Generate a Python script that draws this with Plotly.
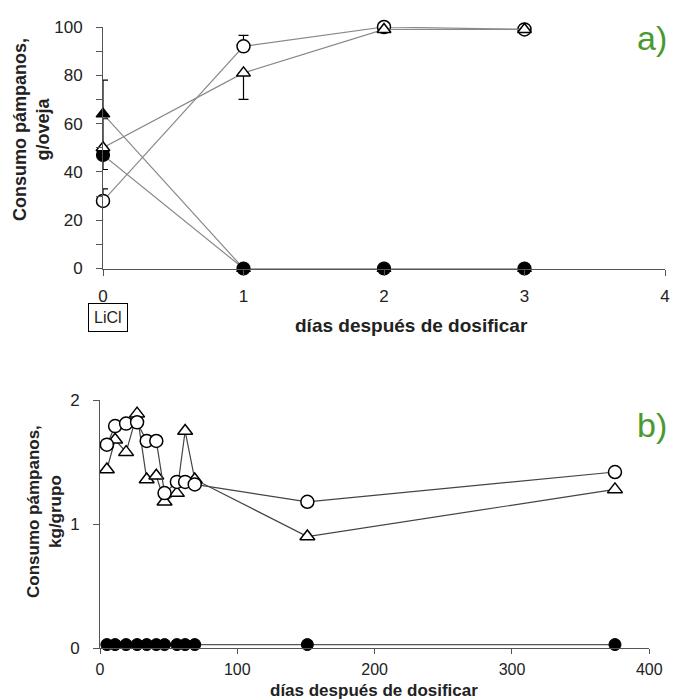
import plotly.graph_objects as go

# ---------- Panel a data ----------
days_a = [0, 1, 2, 3]
open_circle_a = [28, 92, 100, 99]
open_circle_a_err_up = [5, 4.5, 0, 0]
open_triangle_a = [50, 81, 99, 99]
open_triangle_a_err_up = [12, 0, 0, 0]
open_triangle_a_err_dn = [0, 11, 0, 0]
filled_circle_a = [47, 0, 0, 0]
filled_circle_a_err_dn = [6, 0, 0, 0]
filled_triangle_a = [64, 0, 0, 0]
filled_triangle_a_err_up = [14, 0, 0, 0]

# ---------- Panel b data ----------
days_b = [5, 11, 19, 27, 34, 41, 47, 56, 62, 69, 151, 375]
open_circle_b = [1.64, 1.79, 1.81, 1.82, 1.67, 1.67, 1.25, 1.34, 1.34, 1.32, 1.18, 1.42]
open_triangle_b = [1.44, 1.68, 1.58, 1.89, 1.36, 1.39, 1.18, 1.25, 1.75, 1.36, 0.90, 1.28]
filled_circle_b = [0.03] * 12
filled_triangle_b = [-0.02] * 12

FONT = "Liberation Sans, Arial, sans-serif"
W, H = 673, 700

fig = go.Figure()

def errs(up=None, dn=None):
    d = dict(type="data", symmetric=False, color="black", thickness=1.2, width=5, visible=True)
    d["array"] = up if up is not None else [0] * len(days_a)
    d["arrayminus"] = dn if dn is not None else [0] * len(days_a)
    return d

# Panel a traces
fig.add_trace(go.Scatter(x=days_a, y=filled_triangle_a, mode="lines+markers",
                         line=dict(color="#8a8a8a", width=1.2),
                         marker=dict(symbol="triangle-up", size=12, color="black",
                                     line=dict(color="black", width=1.2)),
                         error_y=errs(up=filled_triangle_a_err_up),
                         cliponaxis=False, xaxis="x", yaxis="y"))
fig.add_trace(go.Scatter(x=days_a, y=filled_circle_a, mode="lines+markers",
                         line=dict(color="#8a8a8a", width=1.2),
                         marker=dict(symbol="circle", size=13, color="black",
                                     line=dict(color="black", width=1.2)),
                         error_y=errs(dn=filled_circle_a_err_dn),
                         cliponaxis=False, xaxis="x", yaxis="y"))
fig.add_trace(go.Scatter(x=days_a, y=open_circle_a, mode="lines+markers",
                         line=dict(color="#8a8a8a", width=1.2),
                         marker=dict(symbol="circle", size=13, color="white",
                                     line=dict(color="black", width=1.5)),
                         error_y=errs(up=open_circle_a_err_up),
                         cliponaxis=False, xaxis="x", yaxis="y"))
fig.add_trace(go.Scatter(x=days_a, y=open_triangle_a, mode="lines+markers",
                         line=dict(color="#8a8a8a", width=1.2),
                         marker=dict(symbol="triangle-up", size=12, color="white",
                                     line=dict(color="black", width=1.5)),
                         error_y=errs(up=open_triangle_a_err_up, dn=open_triangle_a_err_dn),
                         cliponaxis=False, xaxis="x", yaxis="y"))

# Panel b traces
fig.add_trace(go.Scatter(x=days_b, y=filled_triangle_b, mode="lines+markers",
                         line=dict(color="#555", width=1.2),
                         marker=dict(symbol="triangle-up", size=11, color="black",
                                     line=dict(color="black", width=1)),
                         cliponaxis=False, xaxis="x2", yaxis="y2"))
fig.add_trace(go.Scatter(x=days_b, y=filled_circle_b, mode="lines+markers",
                         line=dict(color="#555", width=1.2),
                         marker=dict(symbol="circle", size=12, color="black",
                                     line=dict(color="black", width=1)),
                         cliponaxis=False, xaxis="x2", yaxis="y2"))
fig.add_trace(go.Scatter(x=days_b, y=open_triangle_b, mode="lines+markers",
                         line=dict(color="#444", width=1.2),
                         marker=dict(symbol="triangle-up", size=13, color="white",
                                     line=dict(color="black", width=1.5)),
                         cliponaxis=False, xaxis="x2", yaxis="y2"))
fig.add_trace(go.Scatter(x=days_b, y=open_circle_b, mode="lines+markers",
                         line=dict(color="#444", width=1.2),
                         marker=dict(symbol="circle", size=13, color="white",
                                     line=dict(color="black", width=1.5)),
                         cliponaxis=False, xaxis="x2", yaxis="y2"))

axis_common = dict(showgrid=False, zeroline=False, showline=True, linecolor="#555",
                   linewidth=1, ticks="outside", tickcolor="#555",
                   automargin=False, fixedrange=True)
tf17 = dict(family=FONT, size=17, color="#222")
tf16 = dict(family=FONT, size=16, color="#222")

fig.update_layout(
    template="none",
    width=W, height=H,
    margin=dict(l=0, r=0, t=0, b=0, autoexpand=False),
    paper_bgcolor="white", plot_bgcolor="white",
    showlegend=False,
    xaxis=dict(domain=[103 / W, 665 / W], range=[0, 4], dtick=1, anchor="y",
               ticklen=6, tickfont=tf17, ticklabelstandoff=6, **axis_common),
    yaxis=dict(domain=[1 - 268.5 / H, 1 - 27 / H], range=[0, 100], dtick=20, anchor="x",
               minor=dict(dtick=10, ticks="outside", ticklen=6, tickcolor="#555"),
               ticklen=6, tickfont=tf17, ticklabelstandoff=10, **axis_common),
    xaxis2=dict(domain=[100 / W, 649.3 / W], range=[0, 400], dtick=100, anchor="y2",
                ticklen=5, tickfont=tf16, ticklabelstandoff=1, **axis_common),
    yaxis2=dict(domain=[1 - 648.3 / H, 1 - 400 / H], range=[0, 2], dtick=1, anchor="x2",
                ticklen=6, tickfont=tf17, ticklabelstandoff=10, **axis_common),
)

anns = [
    dict(x=31 / W, y=1 - 130 / H, text="<b>Consumo pámpanos,<br>g/oveja</b>", textangle=-90,
         font=dict(family=FONT, size=18, color="#222")),
    dict(x=411 / W, y=1 - 325 / H, text="<b>días después de dosificar</b>",
         font=dict(family=FONT, size=19, color="#222")),
    dict(x=108 / W, y=1 - 317 / H, text="LiCl", bordercolor="black", borderwidth=1,
         borderpad=5, font=dict(family=FONT, size=16, color="#222")),
    dict(x=44 / W, y=1 - 512 / H, text="<b>Consumo pámpanos,<br>kg/grupo</b>", textangle=-90,
         font=dict(family=FONT, size=17, color="#222")),
    dict(x=374 / W, y=1 - 690 / H, text="<b>días después de dosificar</b>",
         font=dict(family=FONT, size=17, color="#222")),
    dict(x=652 / W, y=1 - 38 / H, text="a)", font=dict(family=FONT, size=34, color="#4a9a30")),
    dict(x=652 / W, y=1 - 425 / H, text="b)", font=dict(family=FONT, size=34, color="#4a9a30")),
]
for a in anns:
    a.update(xref="paper", yref="paper", showarrow=False, xanchor="center", yanchor="middle")
    fig.add_annotation(**a)

fig.write_html("out.html", config={"displayModeBar": False},
               post_script="document.body.style.margin='0';document.body.style.padding='0';")
